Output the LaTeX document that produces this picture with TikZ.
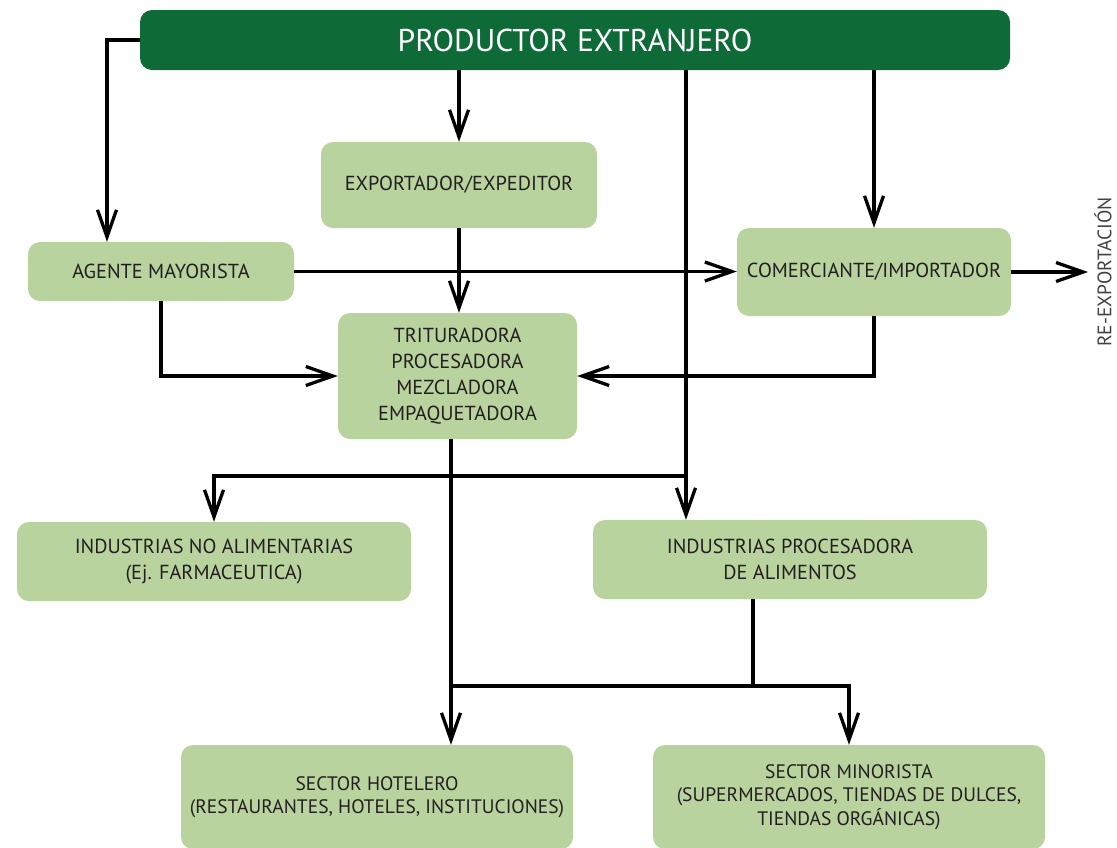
\documentclass[tikz,border=0pt]{standalone}
\usepackage{fontspec}
\setmainfont{PT Sans}
\usetikzlibrary{arrows.meta}
\definecolor{darkgreen}{HTML}{0E6B37}
\definecolor{lightgreen}{HTML}{B8D39E}
\definecolor{textgray}{HTML}{231F20}
\begin{document}
\begin{tikzpicture}[x=1pt,y=-1pt,
    box/.style={rectangle,rounded corners=12pt,fill=lightgreen,text=textgray,
                inner sep=0pt,align=center,font=\fontsize{20.3}{26}\selectfont},
    topbox/.style={box,fill=darkgreen,text=white,font=\fontsize{31.5}{36}\selectfont},
    arr/.style={line width=3.3pt,-{Straight Barb[length=27pt,width=19pt,line width=3.3pt]}},
    ln/.style={line width=3.3pt}]

  \useasboundingbox (0,0) rectangle (1117,847);
  \clip (0,0) rectangle (1117,847);

  \node[topbox,minimum width=870pt,minimum height=60pt] (prod)      at (575,40)    {PRODUCTOR EXTRANJERO};
  \node[box,minimum width=276pt,minimum height=86pt]    (export)    at (459,185)   {EXPORTADOR/EXPEDITOR};
  \node[box,minimum width=266pt,minimum height=59pt]    (agente)    at (161,271.5) {AGENTE MAYORISTA};
  \node[box,minimum width=274pt,minimum height=88pt]    (comerc)    at (874,272)   {COMERCIANTE/IMPORTADOR};
  \node[box,minimum width=239pt,minimum height=126pt]   (trit)      at (457.5,376) {TRITURADORA\\PROCESADORA\\MEZCLADORA\\EMPAQUETADORA};
  \node[box,minimum width=394pt,minimum height=79pt]    (noalim)    at (214,561.5) {INDUSTRIAS NO ALIMENTARIAS\\(Ej. FARMACEUTICA)};
  \node[box,minimum width=394pt,minimum height=79pt]    (procal)    at (790,559.5) {INDUSTRIAS PROCESADORA\\DE ALIMENTOS};
  \node[box,minimum width=392pt,minimum height=104pt,font=\fontsize{19.5}{23.5}\selectfont]
                                                        (hotel)     at (377,797)   {SECTOR HOTELERO\\(RESTAURANTES, HOTELES, INSTITUCIONES)};
  \node[box,minimum width=392pt,minimum height=104pt,font=\fontsize{19.5}{23.5}\selectfont]
                                                        (minor)     at (849,797)   {SECTOR MINORISTA\\(SUPERMERCADOS, TIENDAS DE DULCES,\\TIENDAS ORGÁNICAS)};
  \node[rotate=90,text=textgray!85,inner sep=0pt,font=\fontsize{19.5}{22}\selectfont]
                                                        (reexp)     at (1103,272)  {RE-EXPORTACIÓN};

  % junction points
  \coordinate (c1) at (107,40);
  \coordinate (c2) at (686,70);
  \coordinate (c3) at (451,476);
  \coordinate (c4) at (753,686);
  \coordinate (c5) at (1088,272);

  \draw[arr] (prod.west) -- (c1) -- (c1 |- agente.north);
  \draw[arr] (prod.south -| export.north) -- (export.north);
  \draw[arr] (export.south) -- (export.south |- trit.north);
  \draw[arr] (prod.south -| comerc.north) -- (comerc.north);
  \draw[arr] (c2) -- (c2 |- procal.north);
  \draw[arr] (agente.east) -- (agente.east -| comerc.west);
  \draw[arr] (comerc.east) -- (c5);
  \draw[arr] (agente.south) |- (trit.west);
  \draw[arr] (comerc.south) |- (trit.east);
  \draw[arr] (trit.south -| c3) -- (c3 |- hotel.north);
  \draw[arr] (c2 |- c3) -| (noalim.north);
  \draw[ln]  (procal.south -| c4) -- (c4);
  \draw[arr] (c3 |- c4) -| (minor.north);
\end{tikzpicture}
\end{document}
